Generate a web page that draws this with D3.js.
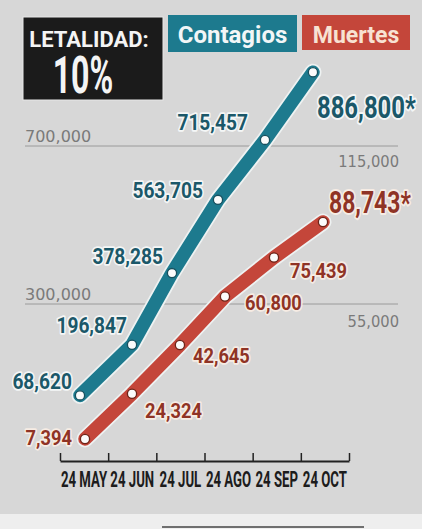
<!DOCTYPE html>
<html>
<head>
<meta charset="utf-8">
<script src="https://cdn.jsdelivr.net/npm/d3@7"></script>
<style>
  html, body { margin: 0; padding: 0; background: #d6d6d6; }
  svg { display: block; }
  text { font-family: Roboto, "DejaVu Sans", sans-serif; }
</style>
</head>
<body>
<svg id="chart" width="422" height="529"></svg>
<script>
// ---------- data ----------
const months = ["24 MAY", "24 JUN", "24 JUL", "24 AGO", "24 SEP", "24 OCT"];
// position of each report along the month axis (month index, fractional)
const casesT  = [0.415, 1.495, 2.325, 3.28, 4.256, 5.252];
const cases   = [68620, 196847, 378285, 563705, 715457, 886800];
const deathsT = [0.519, 1.495, 2.49, 3.425, 4.443, 5.46];
const deaths  = [7394, 24324, 42645, 60800, 75439, 88743];
const caseLabels  = ["68,620", "196,847", "378,285", "563,705", "715,457", "886,800*"];
const deathLabels = ["7,394", "24,324", "42,645", "60,800", "75,439", "88,743*"];
const leftTicks  = [300000, 700000];
const rightTicks = [55000, 115000];
const legend = ["Contagios", "Muertes"];
const lethalityTitle = "LETALIDAD:";
const lethalityValue = "10%";

// ---------- layout ----------
const W = 422, H = 529;
const teal = "#1d7a8e", tealDark = "#1b5869";
const red = "#c4463a", redDark = "#8f3325";

const svg = d3.select("#chart");
svg.append("rect").attr("width", W).attr("height", H).attr("fill", "#d7d7d7");
svg.append("rect").attr("x", 0).attr("y", 514).attr("width", W).attr("height", 15).attr("fill", "#eeeeee");
svg.append("line").attr("x1", 162).attr("x2", 364).attr("y1", 527).attr("y2", 527)
  .attr("stroke", "#444").attr("stroke-width", 1.5);

const x = d3.scaleLinear().domain([0, 6]).range([60, 349]);
const yL = d3.scaleLinear().domain([300000, 700000]).range([304, 146]);
const yR = d3.scaleLinear().domain([55000, 115000]).range([312, 152]);

// helper for horizontally condensed text
function txt(g, px, py, s, o) {
  const t = g.append("text")
    .attr("transform", `translate(${px},${py}) scale(${o.sx || 1},1)`)
    .attr("text-anchor", o.anchor || "start")
    .attr("dominant-baseline", o.base || "auto")
    .attr("font-size", o.size)
    .attr("font-weight", o.weight || "normal")
    .attr("fill", o.fill)
    .text(s);
  if (o.family) t.style("font-family", o.family);
  if (o.halo) {
    t.attr("stroke", o.halo).attr("stroke-width", o.haloW || 3)
      .attr("stroke-linejoin", "round").attr("paint-order", "stroke");
  }
  return t;
}

// ---------- grid lines ----------
const grid = svg.append("g");
leftTicks.forEach(v => {
  grid.append("line").attr("x1", 25).attr("x2", 398)
    .attr("y1", yL(v)).attr("y2", yL(v))
    .attr("stroke", "#9a9a9a").attr("stroke-width", 1);
  txt(grid, 25, yL(v) - 4, d3.format(",")(v), {size: 16, fill: "#7a7a7a", family: "'DejaVu Sans', sans-serif"});
});
rightTicks.forEach(v => {
  txt(grid, 399, yR(v) + 10, d3.format(",")(v), {size: 16, fill: "#7a7a7a", anchor: "end", base: "central", sx: 0.92, family: "'DejaVu Sans', sans-serif"});
});

// ---------- x axis ----------
const ax = svg.append("g").attr("transform", "translate(0,461)");
ax.call(d3.axisTop(x).tickValues(d3.range(0, 7)).tickSize(8).tickSizeOuter(0).tickFormat(""));
ax.select(".domain").attr("stroke", "#222").attr("stroke-width", 2);
ax.selectAll(".tick line").attr("stroke", "#222").attr("stroke-width", 1.5);
months.forEach((m, i) => {
  txt(svg, x(i + 0.5), 487, m, {size: 22, weight: "bold", fill: "#1c1c1c", anchor: "middle", sx: 0.6});
});

// ---------- lines ----------
const caseData = cases.map((v, i) => ({x: x(casesT[i]), y: yL(v), v, label: caseLabels[i]}));
const deathData = deaths.map((v, i) => ({x: x(deathsT[i]), y: yR(v), v, label: deathLabels[i]}));
const line = d3.line().x(d => d.x).y(d => d.y);

function drawSeries(data, color, ring) {
  const g = svg.append("g");
  g.append("path").attr("d", line(data)).attr("fill", "none")
    .attr("stroke", "#eef2f2").attr("stroke-width", 17)
    .attr("stroke-linecap", "round").attr("stroke-linejoin", "round");
  g.append("path").attr("d", line(data)).attr("fill", "none")
    .attr("stroke", color).attr("stroke-width", 13.5)
    .attr("stroke-linecap", "round").attr("stroke-linejoin", "round");
  g.selectAll("circle").data(data).join("circle")
    .attr("cx", d => d.x).attr("cy", d => d.y).attr("r", 4.6)
    .attr("fill", "#fbfbfb").attr("stroke", ring).attr("stroke-width", 1.3);
}
drawSeries(deathData, red, "#6e2418");
drawSeries(caseData, teal, "#17505e");

// ---------- data labels ----------
const caseOff = [
  {dx: -8, dy: -14, a: "end"},
  {dx: -5, dy: -19, a: "end"},
  {dx: -9, dy: -17, a: "end"},
  {dx: -15, dy: -9, a: "end"},
  {dx: -17, dy: -17, a: "end"},
  {dx: 4, dy: 35, a: "start", big: true}
];
const deathOff = [
  {dx: -13, dy: -1, a: "end"},
  {dx: 13, dy: 17, a: "start"},
  {dx: 13, dy: 11, a: "start"},
  {dx: 20, dy: 7, a: "start"},
  {dx: 16, dy: 14, a: "start"},
  {dx: 6, dy: -19, a: "start", big: true}
];
const lab = svg.append("g");
caseData.forEach((d, i) => {
  const o = caseOff[i];
  txt(lab, d.x + o.dx, d.y + o.dy, d.label, {
    size: o.big ? 31 : 22, weight: "bold", fill: tealDark, anchor: o.a, base: "central",
    sx: o.big ? 0.77 : 0.87, halo: "#f4f6f6", haloW: o.big ? 4 : 3.5
  });
});
deathData.forEach((d, i) => {
  const o = deathOff[i];
  txt(lab, d.x + o.dx, d.y + o.dy, d.label, {
    size: o.big ? 31 : 21, weight: "bold", fill: redDark, anchor: o.a, base: "central",
    sx: o.big ? 0.74 : 0.87, halo: "#f6ece4", haloW: o.big ? 4 : 3.5
  });
});

// ---------- header ----------
const hd = svg.append("g");
hd.append("rect").attr("x", 23).attr("y", 17).attr("width", 140).attr("height", 83)
  .attr("fill", "#1b1b1b").attr("stroke", "#e8e8e8").attr("stroke-width", 1);
txt(hd, 89, 47, lethalityTitle, {size: 22, weight: "bold", fill: "#f4f4f4", anchor: "middle", sx: 1.0});
txt(hd, 83, 93, lethalityValue, {size: 51, weight: "bold", fill: "#f4f4f4", anchor: "middle", sx: 0.63});

const boxes = [
  {x: 168, w: 129, h: 37, fill: teal, text: "#f2f6f7", sx: 1},
  {x: 302, w: 108, h: 35, fill: red, text: "#f7e2d3", sx: 0.96}
];
legend.forEach((name, i) => {
  const b = boxes[i];
  hd.append("rect").attr("x", b.x).attr("y", 15).attr("width", b.w).attr("height", b.h)
    .attr("fill", b.fill);
  txt(hd, b.x + b.w / 2, 43, name, {size: 24, weight: "bold", fill: b.text, anchor: "middle", sx: b.sx});
});
</script>
</body>
</html>
